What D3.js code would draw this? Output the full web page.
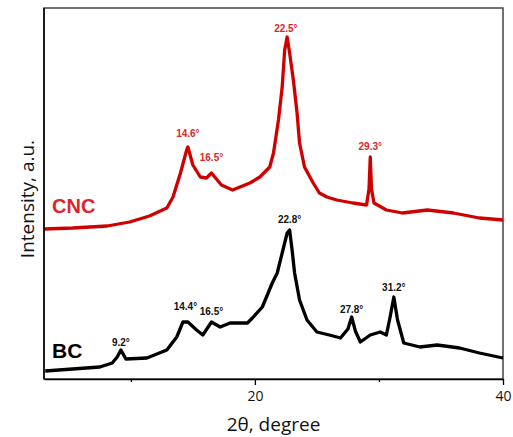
<!doctype html>
<html lang="en">
<head>
<meta charset="utf-8">
<title>XRD BC / CNC</title>
<script src="https://cdn.jsdelivr.net/npm/d3@7"></script>
<style>
  body { margin: 0; background: #fff; }
  svg { display: block; }
</style>
</head>
<body>
<script>

// 2theta (degree) and intensity (a.u.)
var cncAngle = [3.0, 5.3, 8.1, 9.9, 11.5, 12.9, 13.4, 14.0, 14.5, 14.6, 15.0, 15.6, 16.1, 16.5, 17.3, 18.2, 18.8, 19.6, 20.4, 21.2, 21.5, 21.9, 22.2, 22.4, 22.6, 22.8, 23.1, 23.4, 23.6, 24.0, 24.7, 25.2, 25.8, 26.6, 27.9, 29.0, 29.2, 29.3, 29.4, 29.6, 30.6, 31.9, 33.9, 36.0, 38.1, 40.0];
var cncValue = [150, 151, 153, 157, 163, 171, 182, 206, 229, 232, 214, 202, 201, 206, 194, 189, 192, 196, 202, 212, 226, 259, 292, 329, 342, 326, 299, 266, 236, 212, 196, 186, 182, 179, 176, 174, 190, 222, 190, 176, 169, 166, 169, 166, 161, 159];

var bcAngle = [3.1, 5.3, 7.5, 8.5, 8.9, 9.2, 9.6, 11.3, 12.9, 13.7, 14.2, 14.6, 15.3, 15.8, 16.5, 17.2, 18.0, 18.8, 19.4, 19.8, 20.6, 21.4, 21.8, 22.2, 22.6, 22.8, 23.0, 23.2, 23.6, 24.2, 25.0, 26.0, 26.9, 27.5, 27.8, 28.1, 28.5, 29.3, 30.1, 30.6, 30.9, 31.2, 31.5, 32.0, 33.3, 34.7, 36.5, 38.1, 40.0];
var bcValue = [8, 10, 12, 16, 22, 29, 20, 21, 29, 42, 57, 57, 49, 44, 57, 52, 56, 56, 56, 61, 72, 96, 106, 126, 146, 149, 129, 106, 79, 59, 47, 44, 41, 50, 62, 48, 37, 44, 47, 44, 62, 82, 59, 36, 32, 34, 31, 26, 21];

// peak labels
var cncPeaks = [14.6, 16.5, 22.5, 29.3];
var cncPeakLift = [10, 12, 5, 7];
var bcPeaks = [9.2, 14.4, 16.5, 22.8, 27.8, 31.2];
var bcPeakLift = [4, 12, 7, 7, 4, 6];

var xTicks = [10, 20, 30, 40];
var xTickLabels = ["", "20", "", "40"];

var width = 513, height = 437;
var margin = { left: 44, right: 10, top: 8, bottom: 58 };

var svg = d3.select("body").append("svg")
    .attr("width", width)
    .attr("height", height);

var x = d3.scaleLinear().domain([3, 40]).range([margin.left, width - margin.right]);
var y = d3.scaleLinear().domain([0, 371]).range([height - margin.bottom, margin.top]);

var red = "#d00000";
var redText = "#d9262b";

// frame
svg.append("rect")
    .attr("x", x(3)).attr("y", y(371))
    .attr("width", x(40) - x(3)).attr("height", y(0) - y(371))
    .attr("fill", "none").attr("stroke", "#444").attr("stroke-width", 1.5);

var line = d3.line()
    .x(function(d) { return x(d[0]); })
    .y(function(d) { return y(d[1]); });

var cnc = d3.zip(cncAngle, cncValue);
var bc = d3.zip(bcAngle, bcValue);

svg.append("path").datum(cnc)
    .attr("d", line)
    .attr("fill", "none").attr("stroke", red)
    .attr("stroke-width", 3.3).attr("stroke-linejoin", "round");

svg.append("path").datum(bc)
    .attr("d", line)
    .attr("fill", "none").attr("stroke", "#000")
    .attr("stroke-width", 3.3).attr("stroke-linejoin", "round");

// x axis
var xAxis = d3.axisBottom(x)
    .tickValues(xTicks)
    .tickFormat(function(d, i) { return xTickLabels[i]; })
    .tickSizeOuter(0);

var gx = svg.append("g")
    .attr("transform", "translate(0," + y(0) + ")")
    .call(xAxis);

gx.select(".domain").attr("stroke", "#000").attr("stroke-width", 1.5);
gx.selectAll(".tick line")
    .attr("stroke-width", 1.3)
    .attr("y2", function(d, i) { return xTickLabels[i] ? 6 : 3; });
gx.selectAll(".tick text")
    .attr("y", 12)
    .attr("dy", "0.71em")
    .style("font-family", "'Open Sans', sans-serif")
    .style("font-size", "14px")
    .attr("fill", "#111");

// left axis line
svg.append("line")
    .attr("x1", x(3)).attr("x2", x(3))
    .attr("y1", y(0)).attr("y2", y(371))
    .attr("stroke", "#000").attr("stroke-width", 1.5);

// axis titles
svg.append("text")
    .attr("x", (x(3) + x(40)) / 2)
    .attr("y", 431)
    .attr("text-anchor", "middle")
    .style("font-family", "'Open Sans', sans-serif")
    .style("font-size", "19px")
    .attr("fill", "#111")
    .text("2θ, degree");

svg.append("text")
    .attr("transform", "translate(34,199) rotate(-90)")
    .attr("text-anchor", "middle")
    .style("font-family", "'Open Sans', sans-serif")
    .style("font-size", "19px")
    .attr("fill", "#111")
    .text("Intensity, a.u.");

// series names
svg.append("text")
    .attr("x", 52).attr("y", 213)
    .style("font-family", "'Liberation Sans', Arial, sans-serif")
    .style("font-weight", "bold")
    .style("font-size", "20px")
    .attr("fill", redText)
    .text("CNC");

svg.append("text")
    .attr("x", 52).attr("y", 358)
    .style("font-family", "'Liberation Sans', Arial, sans-serif")
    .style("font-weight", "bold")
    .style("font-size", "21px")
    .attr("fill", "#000")
    .text("BC");

// peak labels sit above the highest reading near the labelled angle
function peakAt(angles, values, a) {
    var best = -Infinity;
    for (var i = 0; i < angles.length; i++) {
        if (Math.abs(angles[i] - a) <= 0.3 && values[i] > best) best = values[i];
    }
    return best;
}

svg.selectAll(".cncPeak").data(cncPeaks).enter().append("text")
    .attr("class", "cncPeak")
    .attr("x", function(d) { return x(d); })
    .attr("y", function(d, i) { return y(peakAt(cncAngle, cncValue, d)) - cncPeakLift[i]; })
    .attr("text-anchor", "middle")
    .style("font-family", "'Liberation Sans', Arial, sans-serif")
    .style("font-weight", "bold")
    .style("font-size", "10px")
    .attr("fill", redText)
    .text(function(d) { return d.toFixed(1) + "°"; });

svg.selectAll(".bcPeak").data(bcPeaks).enter().append("text")
    .attr("class", "bcPeak")
    .attr("x", function(d) { return x(d); })
    .attr("y", function(d, i) { return y(peakAt(bcAngle, bcValue, d)) - bcPeakLift[i]; })
    .attr("text-anchor", "middle")
    .style("font-family", "'Liberation Sans', Arial, sans-serif")
    .style("font-weight", "bold")
    .style("font-size", "10px")
    .attr("fill", "#111")
    .text(function(d) { return d.toFixed(1) + "°"; });

</script>
</body>
</html>
